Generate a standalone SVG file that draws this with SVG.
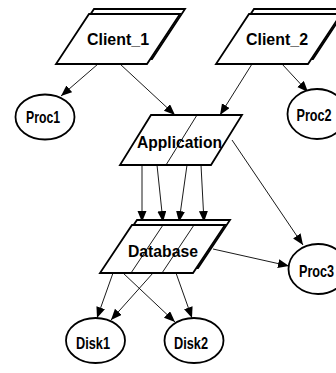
<svg xmlns="http://www.w3.org/2000/svg" width="336" height="373" viewBox="0 0 336 373">
<defs>
<marker id="ah" markerUnits="userSpaceOnUse" markerWidth="12" markerHeight="10" refX="11" refY="4.5" orient="auto">
<path d="M0,0 L11,4.5 L0,9 Z" fill="#000"/>
</marker>
<style>
.n{fill:#fff;stroke:#000;stroke-width:1.8;stroke-linejoin:miter}
.d{fill:none;stroke:#000;stroke-width:0.9}
.e{fill:none;stroke:#000;stroke-width:0.9;marker-end:url(#ah)}
.t{font-family:"Liberation Sans",Arial,sans-serif;font-weight:bold;font-size:17px;text-anchor:middle;fill:#000}
</style>
</defs>
<rect width="336" height="373" fill="#fff"/>
<g id="edges">
<line class="e" x1="98" y1="64" x2="61" y2="96"/>
<line class="e" x1="120" y1="64" x2="175" y2="115"/>
<line class="e" x1="252" y1="64" x2="220" y2="115"/>
<line class="e" x1="282" y1="64" x2="308" y2="92"/>
<line class="e" x1="142" y1="165" x2="142" y2="222"/>
<line class="e" x1="157" y1="165" x2="163" y2="222"/>
<line class="e" x1="187" y1="165" x2="179" y2="222"/>
<line class="e" x1="201" y1="165" x2="204" y2="222"/>
<line class="e" x1="232" y1="140" x2="303" y2="245"/>
<line class="e" x1="213" y1="249" x2="289" y2="266"/>
<line class="e" x1="113" y1="273" x2="97" y2="318"/>
<line class="e" x1="153" y1="273" x2="111" y2="320"/>
<line class="e" x1="123" y1="273" x2="175" y2="322"/>
<line class="e" x1="176" y1="273" x2="192" y2="318"/>
</g>
<g id="Client_1">
<polygon class="n" points="94,9 185,9 152,59 61,59"/>
<polygon class="n" points="89,14 180,14 147,64 56,64"/>
<text class="t" x="118" y="45" textLength="62" lengthAdjust="spacingAndGlyphs">Client_1</text>
</g>
<g id="Client_2">
<polygon class="n" points="254,9 346,9 313,59 221,59"/>
<polygon class="n" points="249,14 341,14 308,64 216,64"/>
<text class="t" x="277" y="45" textLength="62" lengthAdjust="spacingAndGlyphs">Client_2</text>
</g>
<g id="Proc1">
<ellipse class="n" cx="45" cy="117" rx="29.5" ry="22.5"/>
<text class="t" x="43" y="123" textLength="34" lengthAdjust="spacingAndGlyphs">Proc1</text>
</g>
<g id="Proc2">
<ellipse class="n" cx="317" cy="114" rx="29.5" ry="25"/>
<text class="t" x="314" y="121" textLength="35" lengthAdjust="spacingAndGlyphs">Proc2</text>
</g>
<g id="Application">
<polygon class="n" points="151,115 242,115 211,165 120,165"/>
<line class="d" x1="197" y1="115" x2="166" y2="165"/>
<text class="t" x="179.5" y="148" textLength="85" lengthAdjust="spacingAndGlyphs">Application</text>
</g>
<g id="Database">
<polygon class="n" points="137,220 230,220 198,268 105,268"/>
<polygon class="n" points="132,225 225,225 193,273 100,273"/>
<line class="d" x1="163" y1="225" x2="131" y2="273"/>
<line class="d" x1="194" y1="225" x2="162" y2="273"/>
<text class="t" x="163" y="257" textLength="70" lengthAdjust="spacingAndGlyphs">Database</text>
</g>
<g id="Proc3">
<ellipse class="n" cx="318" cy="269" rx="29.5" ry="25"/>
<text class="t" x="316.5" y="277" textLength="35" lengthAdjust="spacingAndGlyphs">Proc3</text>
</g>
<g id="Disk1">
<ellipse class="n" cx="95.5" cy="340.5" rx="29.5" ry="22.5"/>
<text class="t" x="93" y="349" textLength="34" lengthAdjust="spacingAndGlyphs">Disk1</text>
</g>
<g id="Disk2">
<ellipse class="n" cx="194" cy="340.5" rx="29.5" ry="22.5"/>
<text class="t" x="191" y="349" textLength="34" lengthAdjust="spacingAndGlyphs">Disk2</text>
</g>
</svg>
